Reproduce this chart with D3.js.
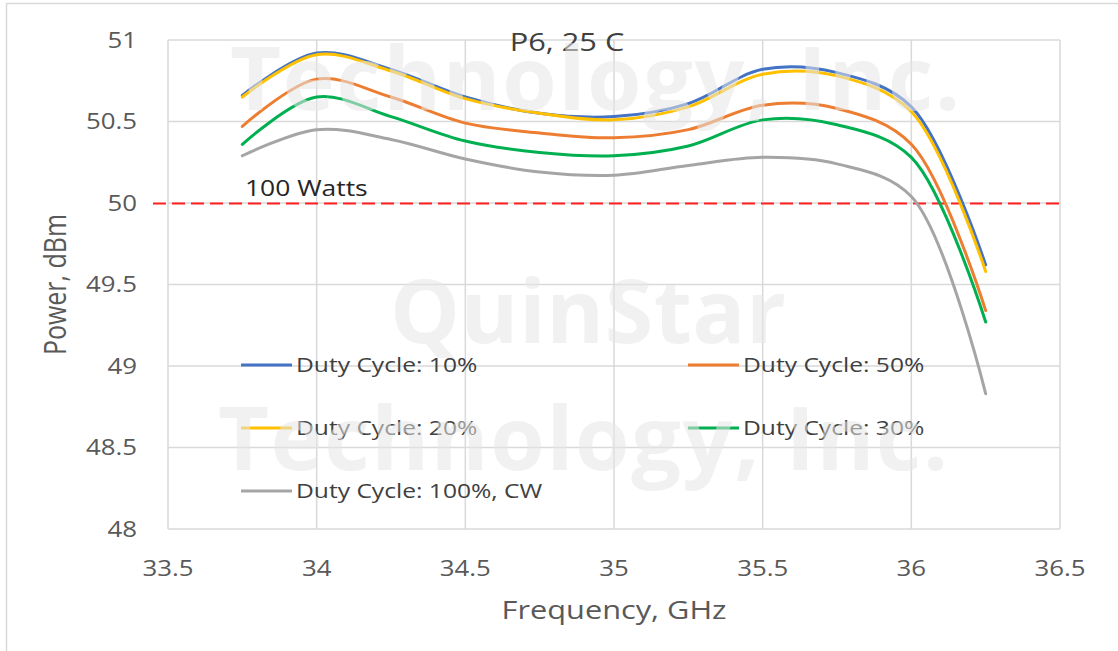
<!DOCTYPE html>
<html>
<head>
<meta charset="utf-8">
<script src="https://cdn.jsdelivr.net/npm/d3@7"></script>
<style>
  body { margin: 0; background: #fff; }
  text { font-family: "Open Sans", "Noto Sans", sans-serif; }
</style>
</head>
<body>
<svg id="chart" width="1118" height="651"></svg>
<script>
// Frequency points (GHz) and measured power (dBm) per duty cycle
const freqs = [33.75, 34, 34.25, 34.5, 34.75, 35, 35.25, 35.5, 35.75, 36, 36.25];
const dc10  = [50.66, 50.92, 50.82, 50.65, 50.55, 50.53, 50.61, 50.82, 50.80, 50.59, 49.62];
const dc50  = [50.47, 50.76, 50.65, 50.49, 50.43, 50.40, 50.45, 50.60, 50.58, 50.36, 49.34];
const dc20  = [50.65, 50.91, 50.81, 50.64, 50.55, 50.51, 50.59, 50.79, 50.78, 50.56, 49.58];
const dc30  = [50.36, 50.65, 50.53, 50.38, 50.31, 50.29, 50.35, 50.51, 50.48, 50.28, 49.27];
const dcCW  = [50.29, 50.45, 50.39, 50.27, 50.19, 50.17, 50.23, 50.28, 50.24, 50.04, 48.83];

const seriesNames  = ["Duty Cycle: 10%", "Duty Cycle: 50%", "Duty Cycle: 20%", "Duty Cycle: 30%", "Duty Cycle: 100%, CW"];
const seriesValues = [dc10, dc50, dc20, dc30, dcCW];
const seriesColors = ["#4472C4", "#ED7D31", "#FFC000", "#00B050", "#A5A5A5"];

const xTicks = [33.5, 34, 34.5, 35, 35.5, 36, 36.5];
const yTicks = [48, 48.5, 49, 49.5, 50, 50.5, 51];
const refLevel = 50; // 100 Watts

const svg = d3.select("#chart");
const plot = { left: 168, right: 1060, top: 40, bottom: 529 };
const stretch = 1.23; // the reference text is a bit wide

const x = d3.scaleLinear().domain([33.5, 36.5]).range([plot.left, plot.right]);
const y = d3.scaleLinear().domain([48, 51]).range([plot.bottom, plot.top]);

// label with horizontal stretch
function label(parent, px, py, str, size, anchor, fill, rotate = false) {
    const tf = rotate
        ? `translate(${px},${py}) rotate(-90) scale(1,${stretch})`
        : `translate(${px},${py}) scale(${stretch},1)`;
    return parent.append("text")
        .attr("transform", tf)
        .attr("text-anchor", anchor)
        .attr("font-size", size)
        .attr("fill", fill)
        .text(str);
}

// outer chart border
svg.append("rect").attr("x", 6.5).attr("y", 3.5).attr("width", 1200).attr("height", 700)
    .attr("fill", "#fff").attr("stroke", "#d9d9d9").attr("stroke-width", 1.5);

// gridlines
const grid = svg.append("g").attr("stroke", "#d9d9d9").attr("stroke-width", 1.5);
grid.selectAll(".vg").data(xTicks).join("line")
    .attr("x1", d => x(d)).attr("x2", d => x(d)).attr("y1", plot.top).attr("y2", plot.bottom);
grid.selectAll(".hg").data(yTicks).join("line")
    .attr("x1", plot.left).attr("x2", plot.right).attr("y1", d => y(d)).attr("y2", d => y(d));

// tick labels
const ticks = svg.append("g");
yTicks.forEach(t => label(ticks, 137, y(t) + 7.5, d3.format("")(t), 21, "end", "#595959"));
xTicks.forEach(t => label(ticks, x(t), 576, d3.format("")(t), 21, "middle", "#595959"));

// axis titles and chart title
label(svg, 614, 619, "Frequency, GHz", 25, "middle", "#595959");
label(svg, 66, (plot.top + plot.bottom) / 2, "Power, dBm", 25, "middle", "#595959", true);
label(svg, 567, 51, "P6, 25 C", 25, "middle", "#404040");

// 100 W reference line
svg.append("line")
    .attr("x1", 153).attr("x2", plot.right)
    .attr("y1", y(refLevel) + 0.5).attr("y2", y(refLevel) + 0.5)
    .attr("stroke", "#FF1F1F").attr("stroke-width", 2).attr("stroke-dasharray", "13,6");
label(svg, 245, 196, "100 Watts", 21.5, "start", "#262626");

// series, smoothed like the spreadsheet's lines
const line = d3.line()
    .x((d, i) => x(freqs[i]))
    .y(d => y(d))
    .curve(d3.curveCatmullRom.alpha(0.5));

svg.append("g").selectAll("path").data(seriesValues).join("path")
    .attr("d", d => line(d))
    .attr("fill", "none")
    .attr("stroke", (d, i) => seriesColors[i])
    .attr("stroke-width", 3)
    .attr("stroke-linecap", "round");

// legend, two columns filled row by row
const legend = svg.append("g");
seriesNames.forEach((name, i) => {
    const lx = i % 2 === 0 ? 241 : 688;
    const ly = 365 + Math.floor(i / 2) * 63;
    legend.append("line")
        .attr("x1", lx).attr("x2", lx + 51).attr("y1", ly).attr("y2", ly)
        .attr("stroke", seriesColors[i]).attr("stroke-width", 3);
    label(legend, lx + 55, ly + 7, name, 20, "start", "#404040");
});

// watermark on top, semi-transparent
const wm = svg.append("g")
    .attr("font-size", 88)
    .attr("font-weight", "bold")
    .attr("fill", "rgba(230,230,230,0.55)");
wm.append("text").attr("x", 230).attr("y", 110).attr("textLength", 730).text("Technology, Inc.");
wm.append("text").attr("x", 390).attr("y", 343).attr("textLength", 396).text("QuinStar");
wm.append("text").attr("x", 218).attr("y", 470).attr("textLength", 730).text("Technology, Inc.");
</script>
</body>
</html>
